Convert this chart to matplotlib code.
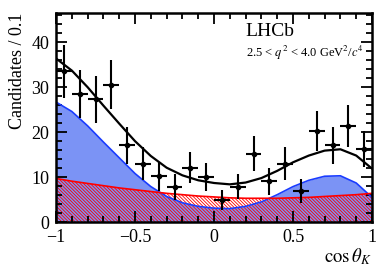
import numpy as np
import matplotlib
matplotlib.use("Agg")
import matplotlib.pyplot as plt
from matplotlib.ticker import MultipleLocator

plt.rcParams['font.family'] = ['Liberation Serif', 'DejaVu Serif']
plt.rcParams['mathtext.fontset'] = 'stix'
plt.rcParams['hatch.linewidth'] = 0.6

# data points (bin centres, candidates per 0.1)
bin_x = np.arange(-0.95, 1.0, 0.1)
counts = [33.5, 28.5, 27.3, 30.6, 17.1, 13.0, 10.2, 7.8, 12.1, 10.0,
          4.9, 7.9, 15.2, 9.1, 13.0, 7.0, 20.2, 17.1, 21.4, 16.2]

# fit components, every 0.1 in cos(theta_K)
curve_x = np.linspace(-1, 1, 21)
signal = [26.7, 24.6, 21.4, 17.8, 14.3, 10.8, 7.9, 5.7, 4.3, 3.5, 3.1,
          3.0, 3.5, 4.5, 6.1, 7.9, 9.3, 10.2, 10.3, 8.7, 5.5]
backgr = [9.7, 9.1, 8.6, 8.1, 7.6, 7.2, 6.8, 6.4, 6.1, 5.8, 5.6,
          5.4, 5.3, 5.3, 5.3, 5.4, 5.5, 5.7, 5.9, 6.1, 6.4]

counts = np.array(counts)
signal = np.array(signal)
backgr = np.array(backgr)
total = signal + backgr

fig = plt.figure(figsize=(3.92, 2.66), dpi=100)
ax = fig.add_axes([0.143, 0.165, 0.806, 0.786])

ax.fill_between(curve_x, 0, signal, color='#7b93f5', lw=0)
ax.plot(curve_x, signal, color='#1a3cff', lw=1.2)
ax.fill_between(curve_x, 0, backgr, facecolor='none', edgecolor='red',
                hatch='\\' * 10, lw=0)
ax.plot(curve_x, backgr, color='red', lw=1.2)
ax.plot(curve_x, total, color='black', lw=1.6)

ax.errorbar(bin_x, counts, xerr=0.05, yerr=np.sqrt(counts), fmt='o',
            color='black', ms=3, elinewidth=1.5, capsize=0)

ax.set_xlim(-1, 1)
ax.set_ylim(0, 46.5)
ax.xaxis.set_minor_locator(MultipleLocator(0.1))
ax.yaxis.set_major_locator(MultipleLocator(10))
ax.yaxis.set_minor_locator(MultipleLocator(2))
ax.set_xticks([-1, -0.5, 0, 0.5, 1])
ax.set_xticklabels(['\u22121', '\u22120.5', '0', '0.5', '1'])
ax.tick_params(which='both', direction='in', top=True, right=True,
               labelsize=13, width=1.3)
ax.tick_params(which='major', length=8, pad=5)
ax.tick_params(which='minor', length=4)
for s in ax.spines.values():
    s.set_linewidth(1.8)

ax.set_ylabel('Candidates / 0.1', fontsize=13, loc='top')
ax.set_xlabel(r'$\cos\theta_K$', fontsize=13.5, loc='right')
ax.xaxis.set_label_coords(1.0, -0.115)

ax.text(0.6, 0.89, 'LHCb', transform=ax.transAxes, fontsize=14)
ax.text(0.6, 0.79, '2.5 < $q^2$ < 4.0 GeV$^2$/$c^4$',
        transform=ax.transAxes, fontsize=9)

fig.savefig('out.png', dpi=100)
